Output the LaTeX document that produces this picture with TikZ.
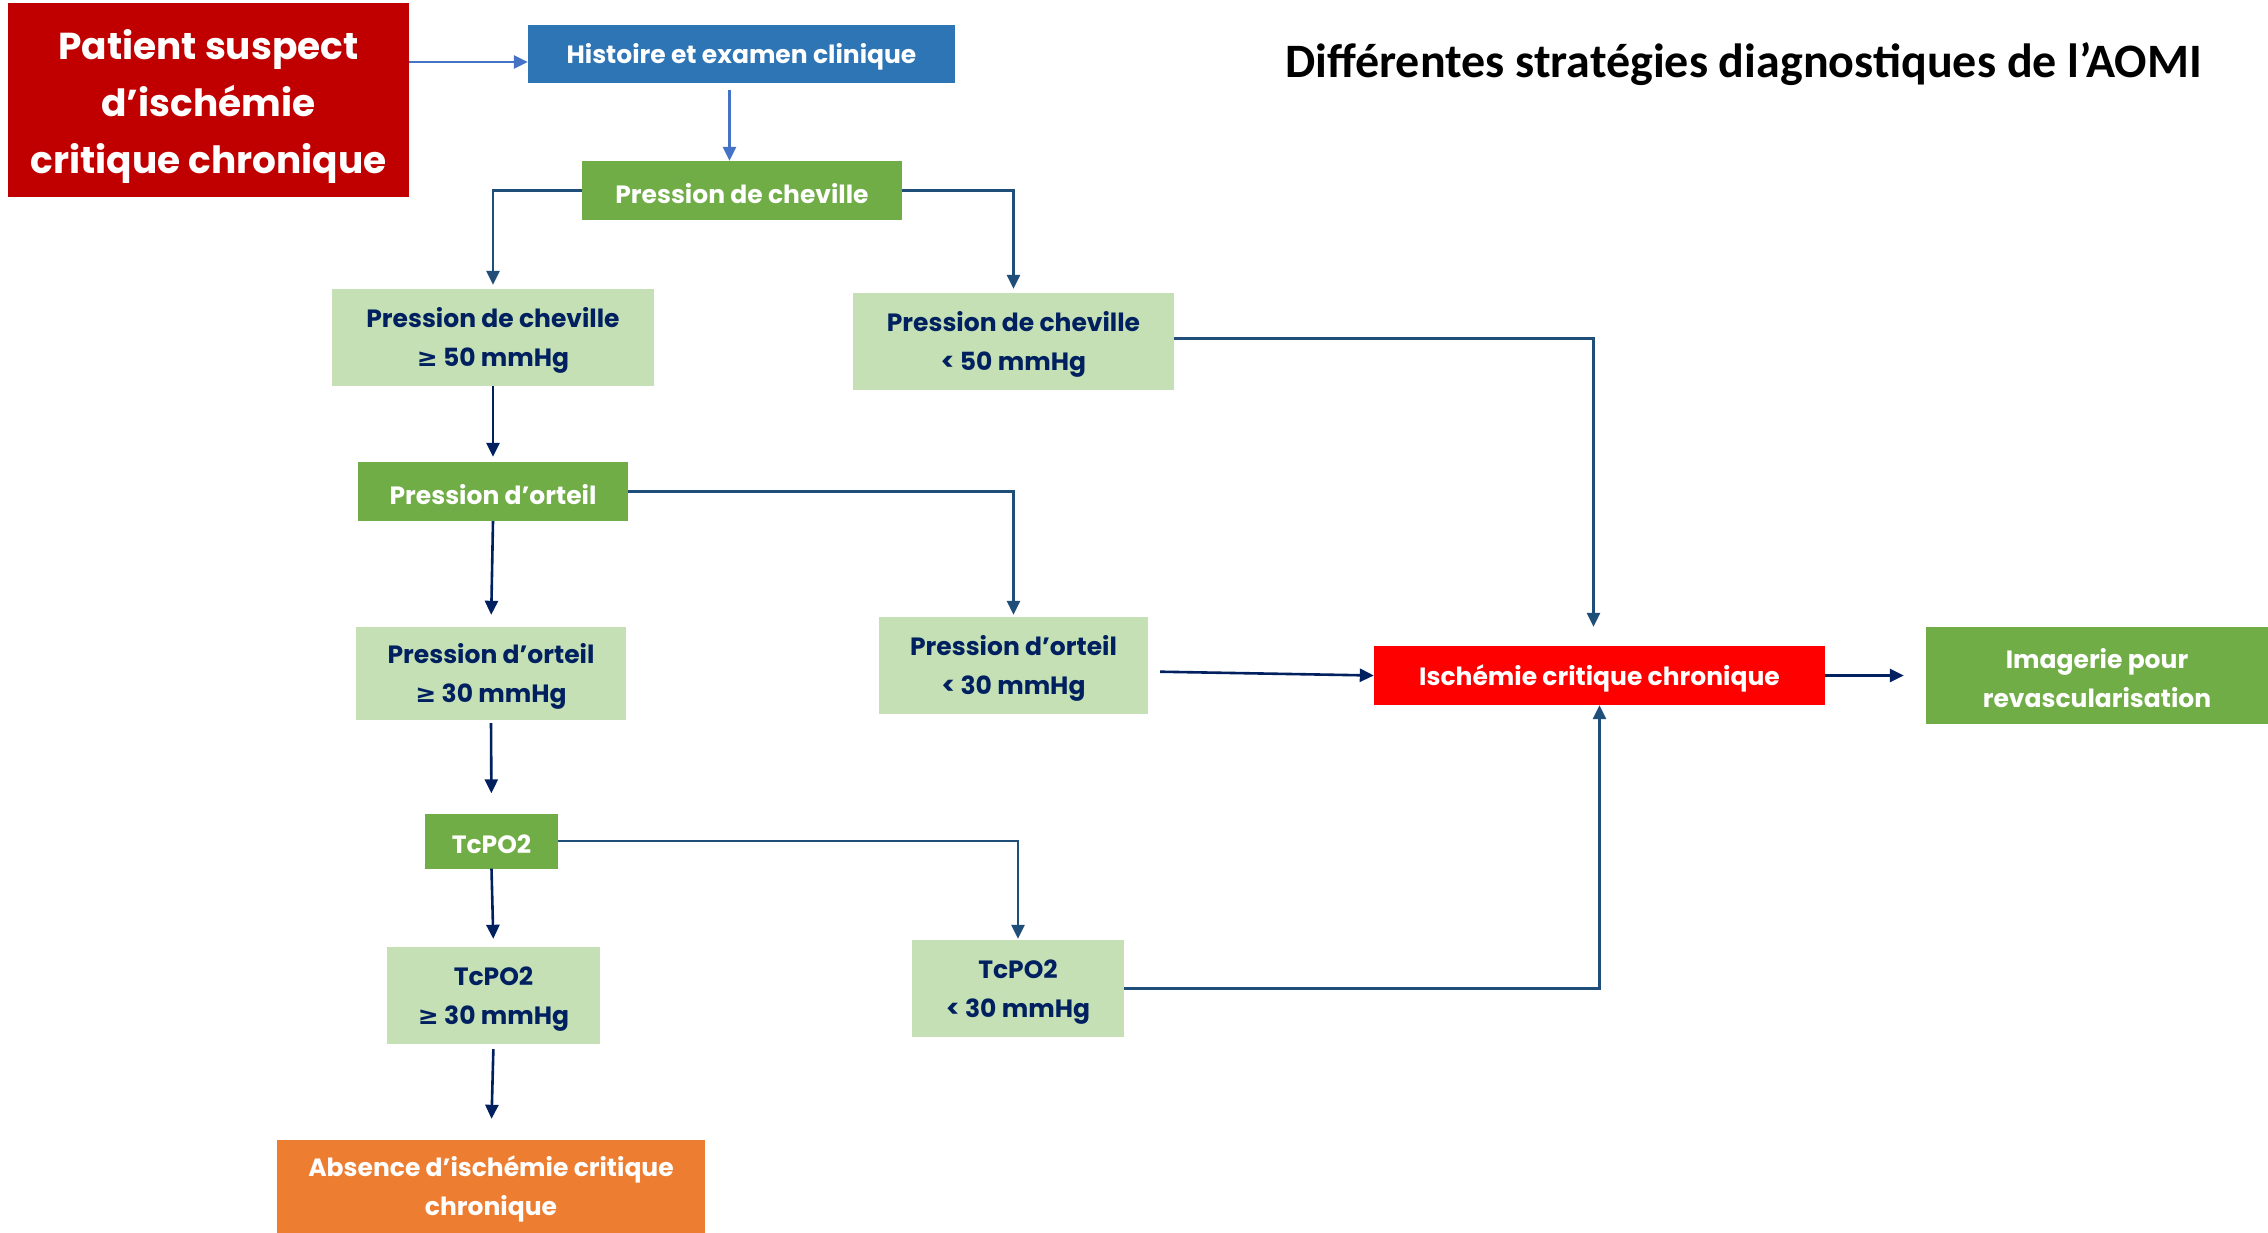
\documentclass[tikz,border=0pt]{standalone}
\usepackage{fontspec}
\setmainfont{Poppins}
\newfontfamily\titlefont{Carlito}
\newfontfamily\symfont{DejaVu Sans}
\usetikzlibrary{arrows.meta,calc}
\definecolor{patred}{HTML}{C00000}
\definecolor{histblue}{HTML}{2E75B6}
\definecolor{hdgreen}{HTML}{70AD47}
\definecolor{ltgreen}{HTML}{C5E0B4}
\definecolor{navy}{HTML}{002060}
\definecolor{steel}{HTML}{1F4E79}
\definecolor{ltblue}{HTML}{4472C4}
\definecolor{orng}{HTML}{ED7D31}
\definecolor{brightred}{HTML}{FF0000}
\newcommand{\gex}{{\symfont\bfseries ≥}}
\newcommand{\lowr}[1][26pt]{\rule{0pt}{#1}}
\begin{document}
\begin{tikzpicture}[x=1pt,y=-1pt,
  basebox/.style={draw=none, inner sep=0pt, align=center,
    font=\bfseries\fontsize{25}{39}\selectfont},
  darkbox/.style={basebox, text=white},
  hdbox/.style={basebox, fill=hdgreen, text=white},
  lightbox/.style={basebox, fill=ltgreen, text=navy},
  conn/.style={draw=steel, line width=2.6pt, -{Triangle[length=14pt,width=13pt]}},
  connnavy/.style={draw=navy, line width=2.6pt, -{Triangle[length=14pt,width=13pt]}},
  connlt/.style={draw=ltblue, line width=2.6pt, -{Triangle[length=14pt,width=13pt]}}
]
\useasboundingbox (0,0) rectangle (2268,1233);
\fill[white] (0,0) rectangle (2268,1233);

% nodes
\node[darkbox, fill=patred, minimum width=401pt, minimum height=194pt,
  font=\bfseries\fontsize{37.5}{57}\selectfont] (patient) at (208.5,100.5)
  {\lowr[41pt]Patient suspect\\d’ischémie\\critique chronique};
\node[darkbox, fill=histblue, minimum width=427pt, minimum height=58pt] (hist) at (741.5,54) {\lowr Histoire et examen clinique};
\node[hdbox, minimum width=320pt, minimum height=59pt] (pche) at (742,190.5) {\lowr Pression de cheville};
\node[lightbox, minimum width=322pt, minimum height=97pt] (pcheGE) at (493,337.5) {\lowr Pression de cheville\\\gex{} 50 mmHg};
\node[lightbox, minimum width=321pt, minimum height=97pt] (pcheLT) at (1013.5,341.5) {\lowr Pression de cheville\\< 50 mmHg};
\node[hdbox, minimum width=270pt, minimum height=59pt] (port) at (493,491.5) {\lowr Pression d’orteil};
\node[lightbox, minimum width=270pt, minimum height=93pt] (portGE) at (491,673.5) {\lowr Pression d’orteil\\\gex{} 30 mmHg};
\node[lightbox, minimum width=269pt, minimum height=97pt] (portLT) at (1013.5,665.5) {\lowr Pression d’orteil\\< 30 mmHg};
\node[hdbox, minimum width=133pt, minimum height=55pt] (tc) at (491.5,841) {\lowr TcPO2};
\node[lightbox, minimum width=213pt, minimum height=97pt] (tcGE) at (493.5,995.5) {\lowr TcPO2\\\gex{} 30 mmHg};
\node[lightbox, minimum width=212pt, minimum height=97pt] (tcLT) at (1018,988.5) {\lowr TcPO2\\< 30 mmHg};
\node[darkbox, fill=orng, minimum width=428pt, minimum height=93pt] (absence) at (491,1186.5) {\lowr Absence d’ischémie critique\\chronique};
\node[darkbox, fill=brightred, minimum width=451pt, minimum height=59pt] (isch) at (1599.5,675.5) {\lowr Ischémie critique chronique};
\node[hdbox, minimum width=342pt, minimum height=97pt] (imag) at (2097,675.5) {\lowr Imagerie pour\\revascularisation};
\node[font=\titlefont\bfseries\fontsize{48}{56}\selectfont, inner sep=0pt] (title) at (1743.5,64) {Différentes stratégies diagnostiques de l’AOMI};

% connectors
\coordinate (h1) at ($(hist.west)+(0,8)$);
\draw[connlt] (patient.east |- h1) -- (h1);
\coordinate (h2) at ($(hist.south)+(-12,0)$);
\draw[connlt, shorten <=7pt] (h2) -- (h2 |- pche.north);
\draw[conn, shorten >=4pt] (pche.west) -| (pcheGE.north);
\draw[conn, shorten >=4pt] (pche.east) -| (pcheLT.north);
\coordinate (i1) at ($(isch.north)+(-6,0)$);
\draw[conn, shorten >=19pt] ([yshift=3pt]pcheLT.east) -| (i1);
\draw[connnavy, shorten >=5pt] (pcheGE.south) -- (port.north);
\draw[connnavy, shorten >=12pt] (port.south) -- (portGE.north);
\draw[conn, shorten >=2pt] (port.east) -| (portLT.north);
\draw[connnavy, shorten <=12pt] ([yshift=-6pt]portLT.east) -- (isch.west);
\draw[connnavy, shorten <=3pt, shorten >=20pt] (portGE.south) -- (tc.north);
\draw[connnavy, shorten >=8pt] (tc.south) -- (tcGE.north);
\draw[conn, shorten >=1pt] (tc.east) -| (tcLT.north);
\draw[connnavy, shorten <=5pt, shorten >=21pt] (tcGE.south) -- (absence.north);
\draw[conn] (tcLT.east) -| (isch.south);
\draw[connnavy, shorten >=22pt] (isch.east) -- (imag.west);
\end{tikzpicture}
\end{document}
